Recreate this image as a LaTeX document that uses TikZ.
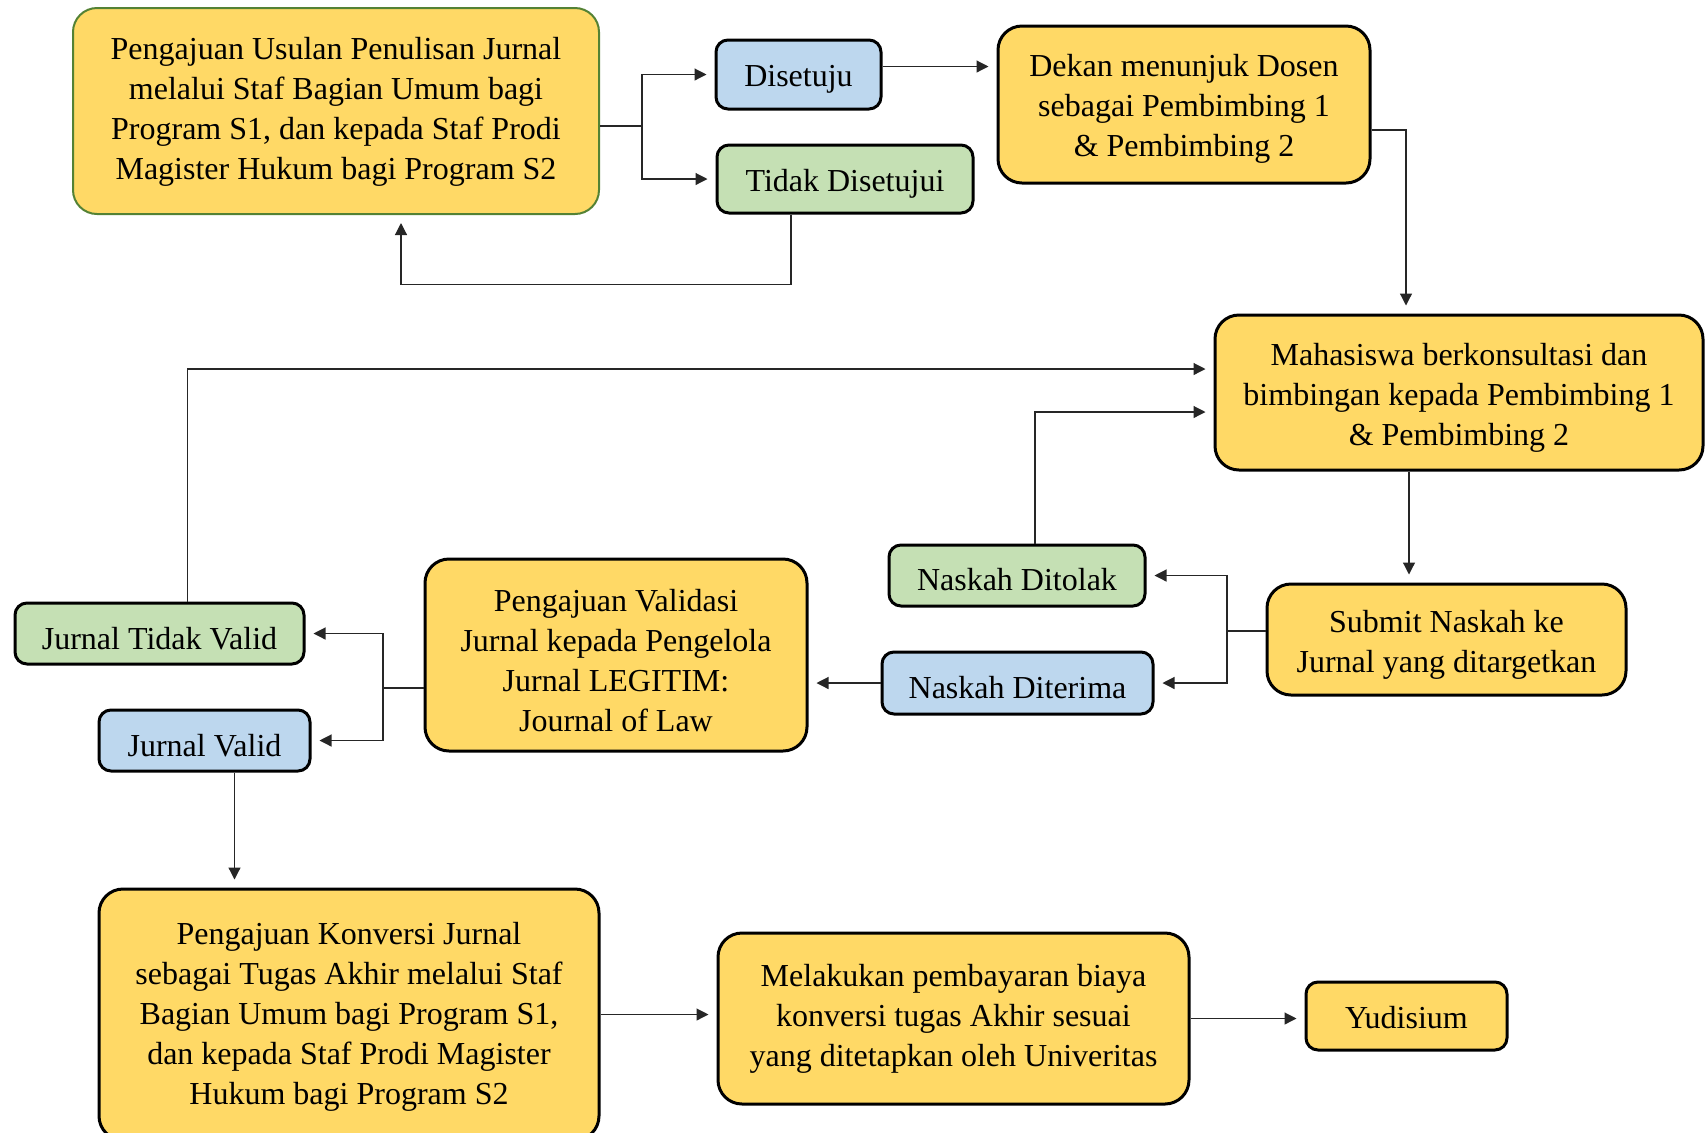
\documentclass[tikz,border=0pt]{standalone}
\usepackage{fontspec}
\setmainfont{Liberation Serif}
\usetikzlibrary{arrows.meta}
\definecolor{kuning}{RGB}{255,217,102}
\definecolor{biru}{RGB}{189,215,238}
\definecolor{hijau}{RGB}{197,224,180}
\definecolor{hijautua}{RGB}{84,130,53}
\begin{document}
\begin{tikzpicture}[x=0.5pt,y=-0.5pt,
  kotak/.style={draw=black,line width=1.5pt,rounded corners=12pt,align=center,inner sep=0pt},
  kecil/.style={kotak,rounded corners=6pt,text height=15pt},
  panah/.style={draw=black!85,line width=0.6pt,-{Triangle[length=6pt,width=6pt]},shorten >=4pt},
  garis/.style={draw=black!85,line width=0.6pt}]
\fontsize{16}{20}\selectfont
\useasboundingbox (0,0) rectangle (1705,1132);
\node[kotak,fill=kuning,draw=hijautua,line width=1pt,minimum width=263pt,minimum height=103pt,text height=71.8pt] (usulan) at (336,111)
  {Pengajuan Usulan Penulisan Jurnal\\melalui Staf Bagian Umum bagi\\Program S1, dan kepada Staf Prodi\\Magister Hukum bagi Program S2};
\node[kecil,fill=biru,minimum width=82.5pt,minimum height=34.5pt] (setuju) at (798.5,74.5) {Disetuju};
\node[kecil,fill=hijau,minimum width=128pt,minimum height=34pt,text height=16pt] (tolak) at (845,179) {Tidak Disetujui};
\node[kotak,fill=kuning,minimum width=186pt,minimum height=78.5pt,text height=55.2pt] (dekan) at (1184,104.5)
  {Dekan menunjuk Dosen\\sebagai Pembimbing 1\\\& Pembimbing 2};
\node[kotak,fill=kuning,minimum width=244pt,minimum height=77.5pt,text height=56.2pt] (bimbingan) at (1459,392.5)
  {Mahasiswa berkonsultasi dan\\bimbingan kepada Pembimbing 1\\\& Pembimbing 2};
\node[kotak,fill=kuning,minimum width=179.5pt,minimum height=55.5pt,text height=36.2pt] (submit) at (1446.5,639.5)
  {Submit Naskah ke\\Jurnal yang ditargetkan};
\node[kecil,fill=hijau,minimum width=128pt,minimum height=30.5pt] (ditolak) at (1017,575.5) {Naskah Ditolak};
\node[kecil,fill=biru,minimum width=135.5pt,minimum height=31pt,text height=16pt] (diterima) at (1017.5,683) {Naskah Diterima};
\node[kotak,fill=kuning,minimum width=191pt,minimum height=96pt,text height=76.2pt] (validasi) at (616,655)
  {Pengajuan Validasi\\Jurnal kepada Pengelola\\Jurnal LEGITIM:\\Journal of Law};
\node[kecil,fill=hijau,minimum width=144.5pt,minimum height=30.5pt,text height=16pt] (tdkvalid) at (159.5,633.5) {Jurnal Tidak Valid};
\node[kecil,fill=biru,minimum width=105.5pt,minimum height=30.5pt,text height=16pt] (valid) at (204.5,740.5) {Jurnal Valid};
\node[kotak,fill=kuning,minimum width=250pt,minimum height=125.5pt,text height=93pt] (konversi) at (349,1014.5)
  {Pengajuan Konversi Jurnal\\sebagai Tugas Akhir melalui Staf\\Bagian Umum bagi Program S1,\\dan kepada Staf Prodi Magister\\Hukum bagi Program S2};
\node[kotak,fill=kuning,minimum width=235.5pt,minimum height=85.5pt] (bayar) at (953.5,1018.5)
  {Melakukan pembayaran biaya\\konversi tugas Akhir sesuai\\yang ditetapkan oleh Univeritas};
\node[kecil,fill=kuning,minimum width=100.5pt,minimum height=34pt,text height=13pt] (yudisium) at (1406.5,1016) {Yudisium};
\coordinate (cabang1) at (642,126);
\coordinate (cabang2) at (1227,631);
\coordinate (cabang3) at (383,688);
\draw[garis] ([yshift=-7.5pt]usulan.east) -- (cabang1);
\draw[panah] (cabang1) |- (setuju.west);
\draw[panah] (cabang1) |- (tolak.west);
\draw[panah] ([xshift=-27pt]tolak.south) -- ++(0,70) -| ([xshift=32.5pt]usulan.south);
\draw[panah] ([yshift=4pt]setuju.east) -- ([yshift=4pt]setuju.east -| dekan.west);
\draw[panah] ([yshift=-12.75pt]dekan.east) -| ([xshift=-26.5pt]bimbingan.north);
\draw[panah] ([xshift=-25pt]bimbingan.south) -- ([xshift=-25pt]bimbingan.south |- submit.north);
\draw[garis] ([yshift=4.25pt]submit.west) -- (cabang2);
\draw[panah] (cabang2) |- (ditolak.east);
\draw[panah] (cabang2) |- (diterima.east);
\draw[panah] ([xshift=9pt]ditolak.north) |- ([yshift=-9.75pt]bimbingan.west);
\draw[panah] (diterima.west) -- (diterima.west -| validasi.east);
\draw[garis] ([yshift=-16.5pt]validasi.west) -- (cabang3);
\draw[panah] (cabang3) |- (tdkvalid.east);
\draw[panah] (cabang3) |- (valid.east);
\draw[panah] ([xshift=14pt]tdkvalid.north) |- ([yshift=11.75pt]bimbingan.west);
\draw[panah] ([xshift=15pt]valid.south) -- ([xshift=15pt]valid.south |- konversi.north);
\draw[panah] (konversi.east) -- (konversi.east -| bayar.west);
\draw[panah] (bayar.east) -- (bayar.east -| yudisium.west);
\end{tikzpicture}
\end{document}
